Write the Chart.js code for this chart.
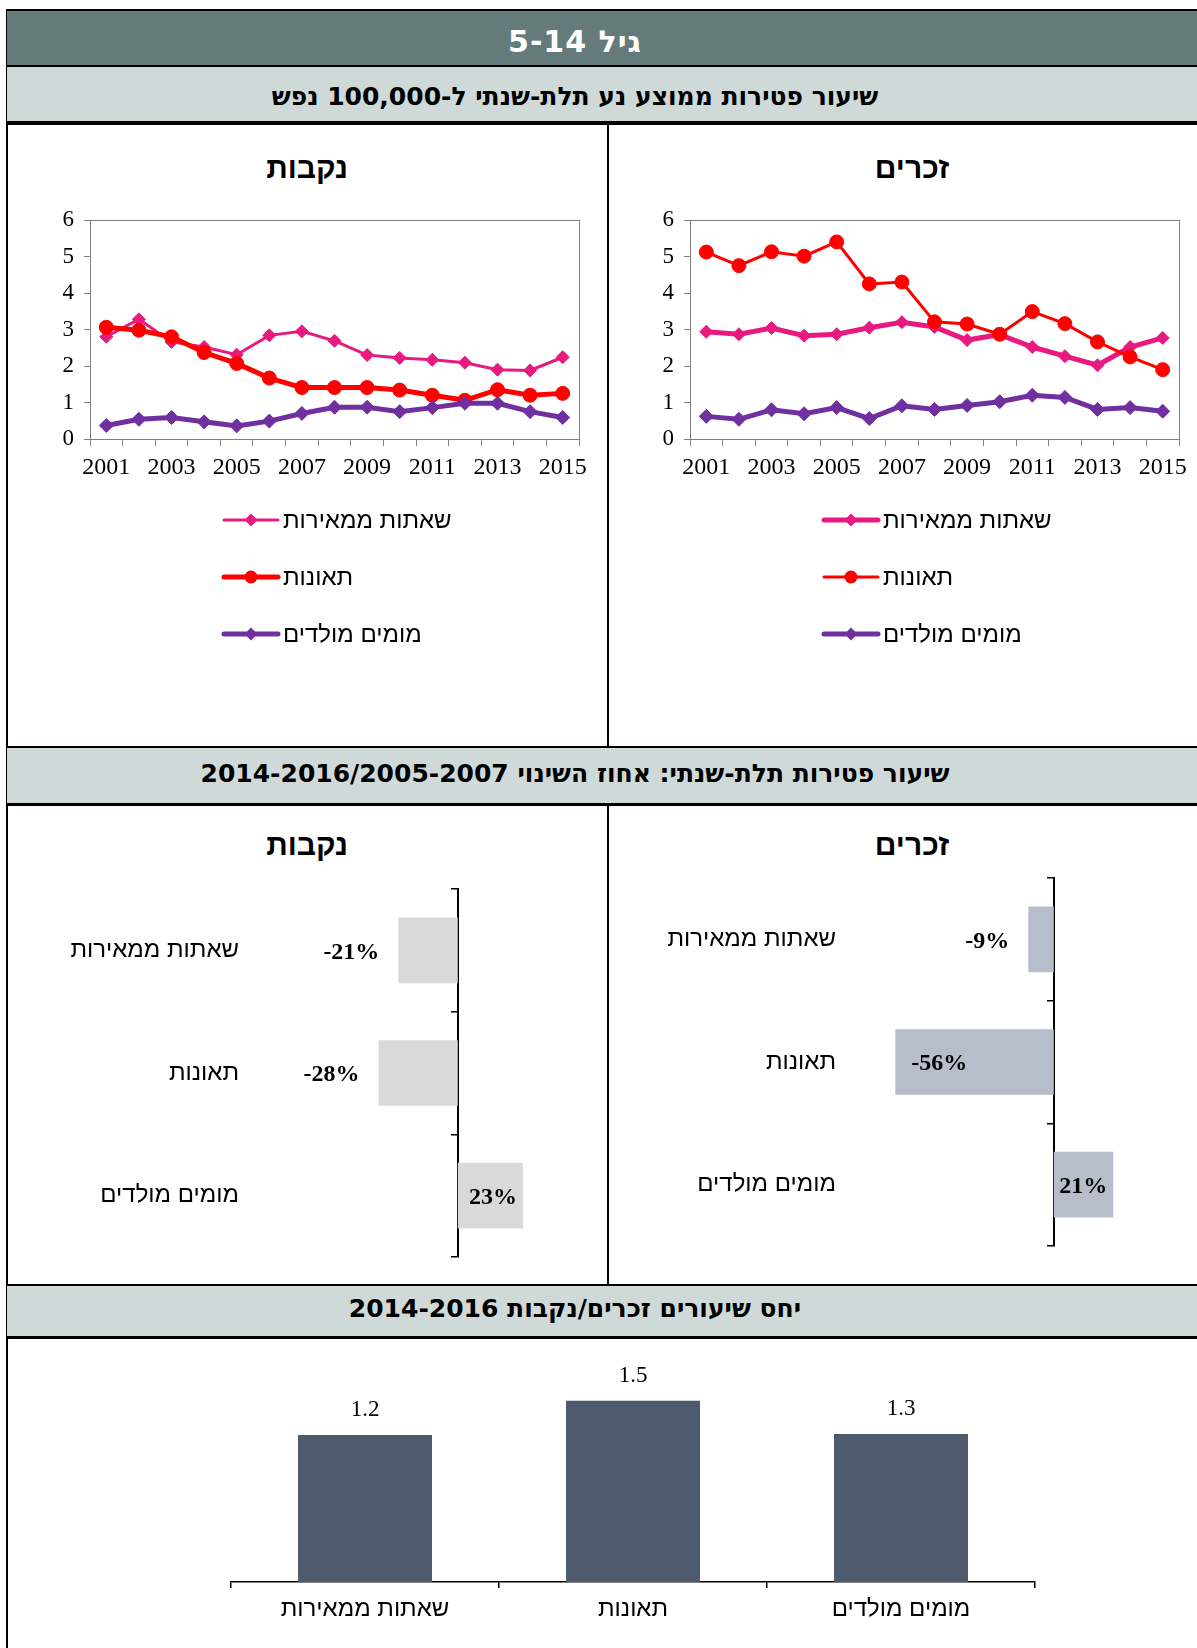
<!DOCTYPE html>
<html lang="he">
<head>
<meta charset="utf-8">
<script src="https://cdn.jsdelivr.net/npm/chart.js@4.4.1/dist/chart.umd.min.js"></script>
<style>
  html, body { margin: 0; padding: 0; background: #fff; }
  #page { position: relative; width: 1197px; height: 1648px; overflow: hidden; background: #fff; }
  .blk { position: absolute; background: #000; }
  .band { position: absolute; left: 7px; width: 1190px; }
  .dark { background: #657a7a; }
  .light { background: #cfd9d8; }
  .btxt { position: absolute; left: 7px; width: 1136px; text-align: center; direction: rtl;
          font-family: "DejaVu Sans", sans-serif; font-weight: bold; white-space: nowrap; }
  .ptitle { position: absolute; text-align: center; direction: rtl; font-family: "Liberation Sans", Arial, sans-serif;
            font-weight: bold; font-size: 30px; }
  canvas { position: absolute; }
</style>
</head>
<body>
<div id="page">
  <!-- frame and bands -->
  <div class="blk" style="left:6px;top:9px;width:2px;height:1639px"></div>
  <div class="blk" style="left:6px;top:9px;width:1191px;height:2px"></div>
  <div class="band dark" style="top:11px;height:54px"></div>
  <div class="btxt" style="top:15px;height:54px;line-height:54px;font-size:30px;color:#fff;letter-spacing:1px">גיל 5-14</div>
  <div class="blk" style="left:6px;top:65px;width:1191px;height:2px"></div>
  <div class="band light" style="top:67px;height:54px"></div>
  <div class="btxt" style="top:70px;height:54px;line-height:54px;font-size:25px">שיעור פטירות ממוצע נע תלת-שנתי ל-100,000 נפש</div>
  <div class="blk" style="left:6px;top:121px;width:1191px;height:4px"></div>

  <div class="blk" style="left:607px;top:125px;width:2px;height:622px"></div>
  <div class="ptitle" style="left:8px;top:151px;width:598px">נקבות</div>
  <div class="ptitle" style="left:612px;top:151px;width:600px">זכרים</div>
  <canvas id="lineF" width="598" height="480" style="left:8px;top:190px"></canvas>
  <canvas id="lineM" width="589" height="480" style="left:608px;top:190px"></canvas>

  <div class="blk" style="left:6px;top:746px;width:1191px;height:2px"></div>
  <div class="band light" style="top:748px;height:55px"></div>
  <div class="btxt" style="top:746px;height:55px;line-height:55px;font-size:25px">שיעור פטירות תלת-שנתי: אחוז השינוי 2014-2016/2005-2007</div>
  <div class="blk" style="left:6px;top:803px;width:1191px;height:3px"></div>

  <div class="blk" style="left:607px;top:806px;width:2px;height:478px"></div>
  <div class="ptitle" style="left:8px;top:828px;width:598px">נקבות</div>
  <div class="ptitle" style="left:612px;top:828px;width:600px">זכרים</div>
  <canvas id="barF" width="598" height="478" style="left:8px;top:806px"></canvas>
  <canvas id="barM" width="589" height="478" style="left:608px;top:806px"></canvas>

  <div class="blk" style="left:6px;top:1284px;width:1191px;height:2px"></div>
  <div class="band light" style="top:1286px;height:50px"></div>
  <div class="btxt" style="top:1284px;height:50px;line-height:50px;font-size:25px">יחס שיעורים זכרים/נקבות 2014-2016</div>
  <div class="blk" style="left:6px;top:1336px;width:1191px;height:3px"></div>

  <canvas id="ratio" width="1189" height="309" style="left:8px;top:1339px"></canvas>
</div>

<script>
// ---- data ----
var years = ['2001','2002','2003','2004','2005','2006','2007','2008','2009','2010','2011','2012','2013','2014','2015'];
var causes = ['שאתות ממאירות', 'תאונות', 'מומים מולדים'];

// females (נקבות), rate per 100,000
var femNeo  = [2.80, 3.28, 2.66, 2.52, 2.31, 2.84, 2.95, 2.69, 2.30, 2.22, 2.17, 2.09, 1.90, 1.88, 2.24];
var femAcc  = [3.06, 2.98, 2.80, 2.37, 2.07, 1.67, 1.41, 1.41, 1.41, 1.34, 1.20, 1.06, 1.35, 1.20, 1.25];
var femCong = [0.37, 0.54, 0.59, 0.47, 0.36, 0.49, 0.70, 0.87, 0.87, 0.75, 0.86, 0.98, 0.98, 0.75, 0.59];

// males (זכרים)
var maleNeo  = [2.94, 2.87, 3.04, 2.83, 2.87, 3.05, 3.20, 3.07, 2.71, 2.86, 2.52, 2.27, 2.02, 2.52, 2.77];
var maleAcc  = [5.12, 4.75, 5.13, 5.01, 5.40, 4.25, 4.30, 3.21, 3.15, 2.87, 3.49, 3.16, 2.66, 2.25, 1.90];
var maleCong = [0.62, 0.54, 0.80, 0.69, 0.86, 0.56, 0.91, 0.81, 0.92, 1.02, 1.20, 1.14, 0.81, 0.86, 0.76];

// % change 2014-2016 vs 2005-2007
var femChange  = [-21, -28, 23];
var maleChange = [-9, -56, 21];

// male/female ratio 2014-2016
var ratioVals = [1.24, 1.53, 1.25];

var PINK = '#e8197f', RED = '#ff0000', PURPLE = '#7030a0', GRAY = '#808080';
var SERIF = '"Liberation Serif", "Times New Roman", serif';
var SANS = '"Liberation Sans", Arial, sans-serif';

// gray box round the plot area
var plotFrame = {
  id: 'plotFrame',
  beforeDatasetsDraw: function(chart) {
    var a = chart.chartArea, ctx = chart.ctx;
    ctx.save();
    ctx.strokeStyle = GRAY; ctx.lineWidth = 1;
    ctx.strokeRect(Math.round(a.left) + 0.5, Math.round(a.top) + 0.5, Math.round(a.right - a.left), Math.round(a.bottom - a.top));
    ctx.restore();
  }
};

function marker(ctx, style, x, y, r) {
  ctx.beginPath();
  if (style === 'circle') {
    ctx.arc(x, y, r, 0, Math.PI * 2);
  } else {
    ctx.moveTo(x - r, y); ctx.lineTo(x, y - r); ctx.lineTo(x + r, y); ctx.lineTo(x, y + r); ctx.closePath();
  }
  ctx.fill();
}

// stacked legend under the plot
var listLegend = {
  id: 'listLegend',
  afterDraw: function(chart, args, o) {
    var ctx = chart.ctx;
    ctx.save();
    chart.data.datasets.forEach(function(ds, i) {
      var y = o.y + i * o.gap;
      ctx.strokeStyle = ds.borderColor; ctx.fillStyle = ds.borderColor;
      ctx.lineWidth = ds.borderWidth; ctx.lineCap = 'round';
      ctx.beginPath(); ctx.moveTo(o.x, y); ctx.lineTo(o.x + 54, y); ctx.stroke();
      marker(ctx, ds.pointStyle, o.x + 27, y, ds.pointStyle === 'circle' ? 6.5 : 6.5);
      ctx.fillStyle = '#000';
      ctx.font = '24px ' + SANS;
      ctx.textAlign = 'left'; ctx.textBaseline = 'middle';
      ctx.fillText(ds.label, o.x + 59, y + 1);
    });
    ctx.restore();
  }
};

function lineChart(id, neo, acc, cong, widths, padRight) {
  return new Chart(document.getElementById(id), {
    type: 'line',
    data: {
      labels: years,
      datasets: [
        { label: causes[0], data: neo, borderColor: PINK, backgroundColor: PINK, borderWidth: widths[0],
          pointStyle: 'rectRot', pointRadius: 6.5, pointBorderWidth: 1, order: 3 },
        { label: causes[1], data: acc, borderColor: RED, backgroundColor: RED, borderWidth: widths[1],
          pointStyle: 'circle', pointRadius: 7, pointBorderWidth: 1, order: 2 },
        { label: causes[2], data: cong, borderColor: PURPLE, backgroundColor: PURPLE, borderWidth: widths[2],
          pointStyle: 'rectRot', pointRadius: 7, pointBorderWidth: 1, order: 1 }
      ]
    },
    options: {
      responsive: false, animation: false, devicePixelRatio: 1,
      layout: { padding: { top: 30, right: padRight, bottom: 191, left: 0 } },
      plugins: { legend: { display: false }, tooltip: { enabled: false }, listLegend: { x: 216, y: 330, gap: 57 } },
      scales: {
        x: {
          offset: true,
          grid: { offset: true, drawOnChartArea: false, tickLength: 7, color: GRAY },
          border: { color: GRAY },
          ticks: { autoSkip: false, maxRotation: 0, padding: 7, color: '#000', font: { family: SERIF, size: 24 },
                   callback: function(v, i) { return i % 2 === 0 ? years[i] : ''; } },
          afterFit: function(s) { s.height = 40; }
        },
        y: {
          min: 0, max: 6,
          grid: { drawOnChartArea: false, tickLength: 6, color: GRAY },
          border: { color: GRAY },
          ticks: { stepSize: 1, padding: 10, color: '#000', font: { family: SERIF, size: 23 } },
          afterFit: function(s) { s.width = 82; }
        }
      }
    },
    plugins: [plotFrame, listLegend]
  });
}

lineChart('lineF', femNeo, femAcc, femCong, [3, 5, 5], 27);
lineChart('lineM', maleNeo, maleAcc, maleCong, [5, 3, 5], 18);

// value labels for the change bars
var changeLabels = {
  id: 'changeLabels',
  afterDatasetsDraw: function(chart, args, o) {
    var ctx = chart.ctx, meta = chart.getDatasetMeta(0), vals = chart.data.datasets[0].data;
    ctx.save();
    ctx.fillStyle = '#000'; ctx.textBaseline = 'middle';
    ctx.font = 'bold 24px ' + SERIF;
    meta.data.forEach(function(bar, i) {
      var v = vals[i], txt = v + '%', inside = o.inside[i], x;
      if (v < 0) {
        if (inside) { ctx.textAlign = 'left'; x = bar.x + 16; }
        else { ctx.textAlign = 'right'; x = bar.x - 19; }
      } else {
        if (inside) { ctx.textAlign = 'right'; x = bar.x - 6; }
        else { ctx.textAlign = 'left'; x = bar.x + 8; }
      }
      ctx.fillText(txt, x, bar.y + 2);
    });
    ctx.restore();
  }
};

function changeChart(id, vals, color, inside, axisW, pad) {
  return new Chart(document.getElementById(id), {
    type: 'bar',
    data: {
      labels: causes,
      datasets: [{ data: vals, backgroundColor: color, categoryPercentage: 1, barPercentage: 0.535 }]
    },
    options: {
      indexAxis: 'y',
      responsive: false, animation: false, devicePixelRatio: 1,
      layout: { padding: pad },
      plugins: { legend: { display: false }, tooltip: { enabled: false }, changeLabels: { inside: inside } },
      scales: {
        x: { display: false, min: -60, max: 40 },
        y: {
          position: { x: 0 },
          grid: { offset: true, drawOnChartArea: false, tickLength: 6, color: '#000', lineWidth: 1.5 },
          border: { display: true, color: '#000', width: 2 },
          ticks: { display: false }
        },
        yl: {
          type: 'category', position: 'left', offset: true,
          grid: { display: false, drawTicks: false },
          border: { display: false },
          ticks: { padding: axisW.pad, color: '#000', font: { family: SANS, size: 24 } },
          afterFit: function(s) { s.width = axisW.w; s.paddingTop = 0; s.paddingBottom = 0; }
        }
      }
    },
    plugins: [changeLabels]
  });
}

changeChart('barF', femChange, '#d9d9d9', [false, false, true], { w: 280, pad: 49 }, { top: 83, right: 35, bottom: 27, left: 0 });
changeChart('barM', maleChange, '#b6bdcb', [false, true, true], { w: 276, pad: 48 }, { top: 72, right: 30, bottom: 38, left: 0 });

// ratio bars
var ratioLabels = {
  id: 'ratioLabels',
  afterDatasetsDraw: function(chart) {
    var ctx = chart.ctx, meta = chart.getDatasetMeta(0), vals = chart.data.datasets[0].data;
    ctx.save();
    ctx.fillStyle = '#000'; ctx.textAlign = 'center'; ctx.textBaseline = 'middle';
    ctx.font = '23px ' + SERIF;
    meta.data.forEach(function(bar, i) { ctx.fillText(vals[i].toFixed(1), bar.x, bar.y - 25); });
    ctx.restore();
  }
};

new Chart(document.getElementById('ratio'), {
  type: 'bar',
  data: { labels: causes, datasets: [{ data: ratioVals, backgroundColor: '#4e5b6e', categoryPercentage: 1, barPercentage: 0.5 }] },
  options: {
    responsive: false, animation: false, devicePixelRatio: 1,
    layout: { padding: { top: 6, right: 162, bottom: 0, left: 223 } },
    plugins: { legend: { display: false }, tooltip: { enabled: false } },
    scales: {
      x: {
        grid: { offset: true, drawOnChartArea: false, tickLength: 6, color: '#000', lineWidth: 1.5 },
        border: { color: '#000', width: 1.5 },
        ticks: { padding: 7, color: '#000', font: { family: SANS, size: 24 } },
        afterFit: function(s) { s.height = 66; }
      },
      y: { display: false, min: 0, max: 2 }
    }
  },
  plugins: [ratioLabels]
});
</script>
</body>
</html>
